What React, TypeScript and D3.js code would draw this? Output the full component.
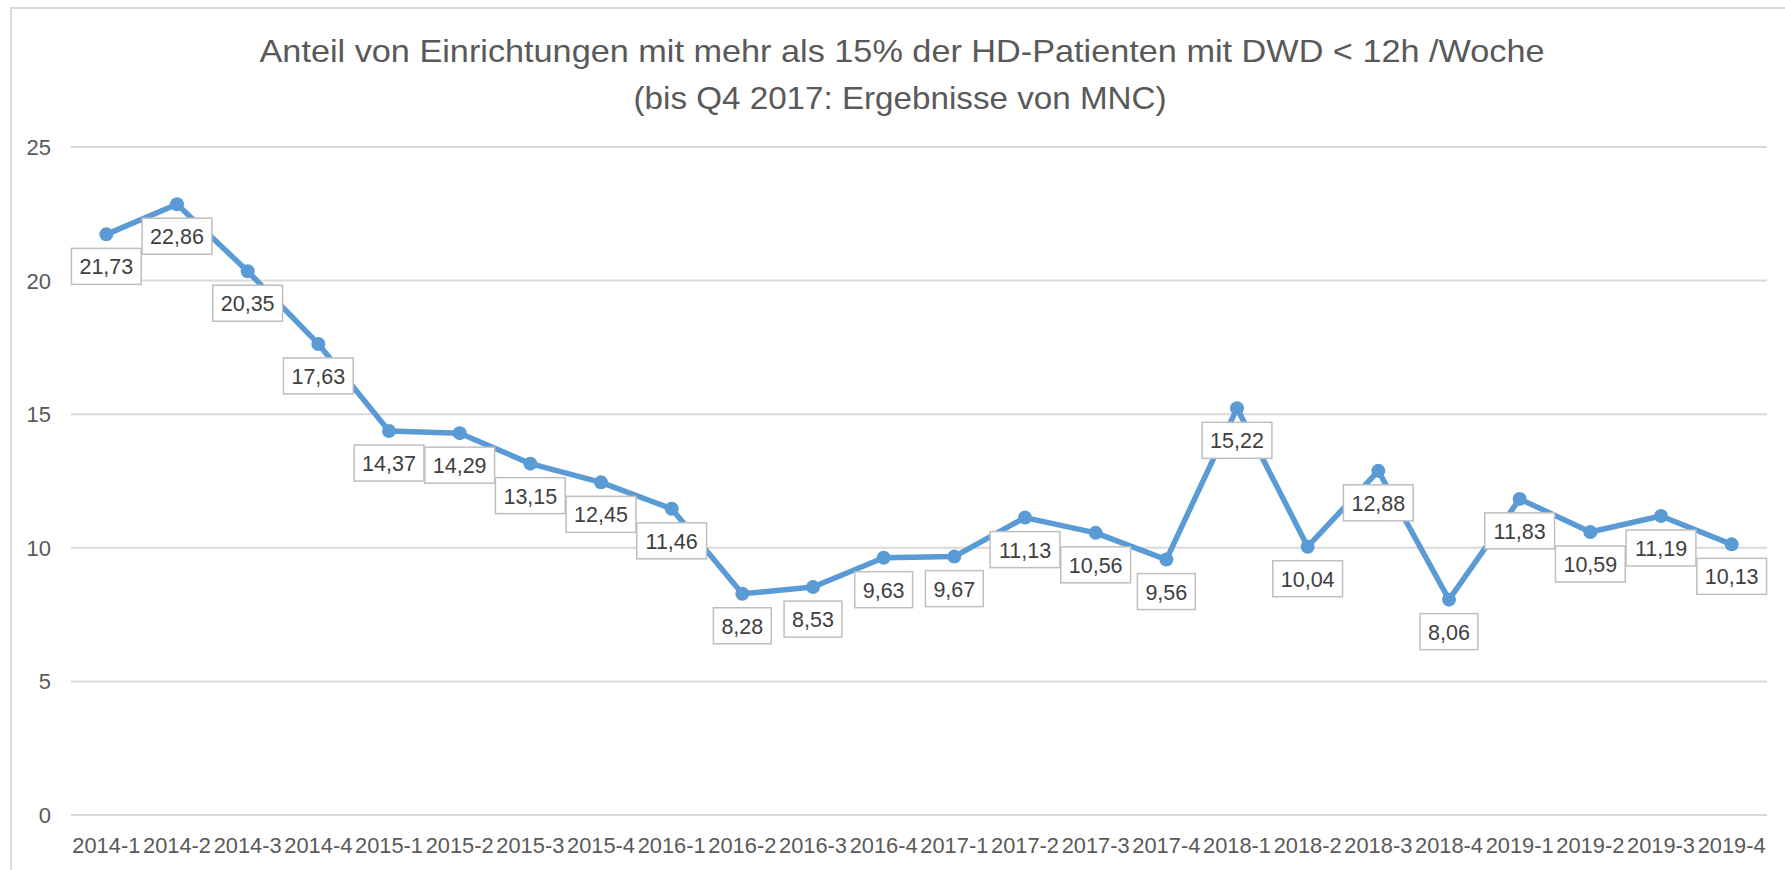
import React from 'react';
import * as d3 from 'd3';

const categories = [
  '2014-1', '2014-2', '2014-3', '2014-4',
  '2015-1', '2015-2', '2015-3', '2015-4',
  '2016-1', '2016-2', '2016-3', '2016-4',
  '2017-1', '2017-2', '2017-3', '2017-4',
  '2018-1', '2018-2', '2018-3', '2018-4',
  '2019-1', '2019-2', '2019-3', '2019-4',
];

const values = [
  21.73, 22.86, 20.35, 17.63,
  14.37, 14.29, 13.15, 12.45,
  11.46, 8.28, 8.53, 9.63,
  9.67, 11.13, 10.56, 9.56,
  15.22, 10.04, 12.88, 8.06,
  11.83, 10.59, 11.19, 10.13,
];

const yTicks = [0, 5, 10, 15, 20, 25];

const titleLines = [
  'Anteil von Einrichtungen mit mehr als 15% der HD-Patienten mit DWD < 12h /Woche',
  '(bis Q4 2017: Ergebnisse von MNC)',
];

const FONT = "'Liberation Sans', Arial, sans-serif";
const BLUE = '#5b9bd5';

function fmt(v: number) {
  return v.toFixed(2).replace('.', ',');
}

function textWidth(s: string, size: number) {
  let w = 0;
  for (const ch of s) {
    if (ch === ',') w += 0.278;
    else if (ch === '-') w += 0.333;
    else w += 0.556;
  }
  return w * size;
}

export default function App() {
  const W = 1785;
  const H = 870;
  const left = 71;
  const right = 1767;
  const x = d3.scalePoint<string>().domain(categories).range([left, right]).padding(0.5);
  const y = d3.scaleLinear().domain([0, 25]).range([815, 147]);

  const lineGen = d3
    .line<number>()
    .x((_, i) => x(categories[i]) as number)
    .y((d) => y(d));

  const labelSize = 21.5;
  const axisSize = 22;

  return (
    <svg
      width={W}
      height={H}
      style={{ position: 'absolute', left: 0, top: 0, background: '#fff' }}
    >
      <rect x={0} y={0} width={W} height={H} fill="#fff" />
      <rect x={11} y={8} width={W + 20} height={H + 20} fill="#fff" stroke="#d9d9d9" strokeWidth={2} />

      {/* title */}
      <text x={902} y={62} textAnchor="middle" fontFamily={FONT} fontSize={32} fill="#595959"
        textLength={1285} lengthAdjust="spacingAndGlyphs">
        {titleLines[0]}
      </text>
      <text x={900} y={109} textAnchor="middle" fontFamily={FONT} fontSize={32} fill="#595959"
        textLength={533} lengthAdjust="spacingAndGlyphs">
        {titleLines[1]}
      </text>

      {/* gridlines & y ticks */}
      {yTicks.map((t) => (
        <g key={t}>
          <line x1={left} x2={right} y1={y(t)} y2={y(t)} stroke="#d9d9d9" strokeWidth={2} />
          <text x={51} y={y(t) + 8} textAnchor="end" fontFamily={FONT} fontSize={axisSize} fill="#595959">
            {t}
          </text>
        </g>
      ))}

      {/* x labels */}
      {categories.map((c) => (
        <text key={c} x={x(c) as number} y={853} textAnchor="middle" fontFamily={FONT} fontSize={axisSize} fill="#595959"
          textLength={68} lengthAdjust="spacingAndGlyphs">
          {c}
        </text>
      ))}

      {/* line */}
      <path d={lineGen(values) || ''} fill="none" stroke={BLUE} strokeWidth={5.5} strokeLinejoin="round" strokeLinecap="round" />
      {values.map((v, i) => (
        <circle key={i} cx={x(categories[i]) as number} cy={y(v)} r={7} fill={BLUE} />
      ))}

      {/* data labels */}
      {values.map((v, i) => {
        const s = fmt(v);
        const tw = textWidth(s, labelSize);
        const bw = tw + 16;
        const bh = 36;
        const cx = x(categories[i]) as number;
        const cy = y(v) + 32;
        return (
          <g key={'l' + i}>
            <rect x={cx - bw / 2} y={cy - bh / 2} width={bw} height={bh} fill="#fff" stroke="#bfbfbf" strokeWidth={1.5} />
            <text x={cx} y={cy + 8} textAnchor="middle" fontFamily={FONT} fontSize={labelSize} fill="#404040">
              {s}
            </text>
          </g>
        );
      })}
    </svg>
  );
}
